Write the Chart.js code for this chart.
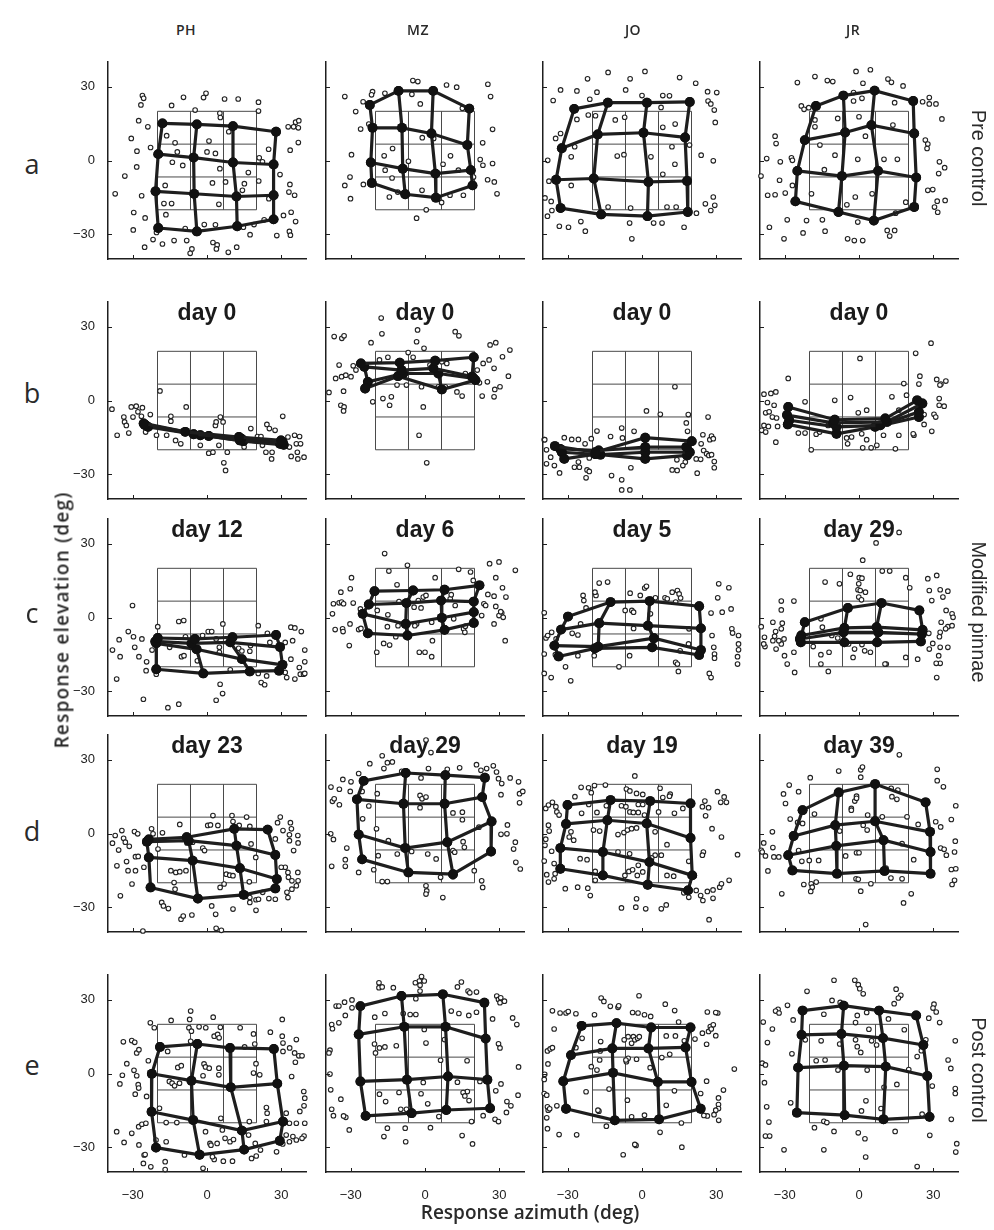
<!DOCTYPE html>
<html><head><meta charset="utf-8">
<script src="https://cdn.jsdelivr.net/npm/chart.js@4.4.0/dist/chart.umd.min.js"></script>
<style>
html,body{margin:0;padding:0;background:#fff}
body{width:994px;height:1230px;position:relative;overflow:hidden;font-family:'Liberation Sans',Arial,sans-serif;color:#222}
canvas.cv{position:absolute}
.lbl{position:absolute;white-space:nowrap;transform:translate(-50%,-50%);line-height:1}
.hdr{font-family:'Open Sans',sans-serif;font-weight:600;font-size:14px;color:#2a2a2a;letter-spacing:0.5px}
.row{font-family:'Open Sans',sans-serif;font-weight:400;font-size:27px;color:#2a2a2a}
.ttl{font-family:'Open Sans',sans-serif;font-weight:600;font-size:19px;color:#2a2a2a}
.ttly{letter-spacing:1.2px}
.side{font-family:'Liberation Sans',Arial,sans-serif;font-size:20px;color:#2a2a2a}
</style></head><body>
<script>
// ---------- categories / labels ----------
const subjects = ['PH','MZ','JO','JR'];
const rowLetters = ['a','b','c','d','e'];
const conditions = ['Pre control','Modified pinnae','Post control'];
const dayLabels = [
  [null,null,null,null],
  ['day 0','day 0','day 0','day 0'],
  ['day 12','day 6','day 5','day 29'],
  ['day 23','day 29','day 19','day 39'],
  [null,null,null,null]
];
const tickValues = [-30, 0, 30];
const targetAz = [-20, -6.67, 6.67, 20];
const targetEl = [-20, -6.67, 6.67, 20];

// ---------- row a : pre control ----------
const PH_a_mean = [[-18.0,15.1],[-4.1,14.7],[10.5,14.0],[27.9,11.7],[-19.7,2.6],[-5.4,1.2],[10.5,-0.8],[26.9,-1.6],[-20.8,-12.5],[-5.2,-13.5],[11.9,-14.6],[26.9,-14.1],[-19.7,-27.4],[-4.1,-28.8],[12.2,-26.7],[26.9,-23.9]];
const PH_a_resp = [[-26.1,26.4],[-25.6,25.3],[-26.7,22.6],[-27.6,16.2],[-23.9,13.7],[-30.6,9.0],[-28.3,3.8],[-22.8,5.3],[-33.2,-6.3],[-28.4,-2.6],[-37.1,-13.5],[-26.4,-14.3],[-29.6,-21.1],[-25.0,-23.3],[-29.8,-28.2],[-25.2,-35.2],[-21.8,-32.1],[-18.0,-33.9],[-20.4,-29.2],[-16.6,-22.0],[-14.3,-17.5],[-17.4,-17.5],[-16.9,-10.1],[-16.3,10.1],[-12.9,7.2],[-14.0,-0.7],[-9.8,-2.0],[-14.3,22.4],[-9.5,25.7],[-4.8,20.5],[-1.4,25.6],[-0.4,27.3],[5.2,19.2],[5.4,17.5],[7.1,25.0],[12.6,25.0],[20.8,23.7],[20.8,20.1],[8.8,11.7],[0.8,7.9],[0,3.5],[3.4,2.9],[5.2,-3.3],[2.2,-9.1],[7.5,-8.7],[4.8,-17.8],[15.1,-9.4],[14.3,-12.1],[16.7,-4.9],[20.9,-8.3],[21.1,1.1],[22.4,-0.5],[24.9,4.6],[25.0,-15.5],[29.5,-5.7],[33.6,4.2],[36.9,7.3],[32.8,13.7],[35.0,13.7],[35.8,15.6],[37.1,16.2],[36.9,13.3],[33.5,-9.7],[33.1,-12.8],[35.4,-14.1],[30.9,-22.3],[34.0,-21.0],[35.8,-24.8],[33.3,-28.8],[33.7,-30.3],[28.2,-30.5],[17.4,-30.1],[14.7,-27.1],[19.0,-26.0],[23.1,-24.1],[3.4,-26.1],[-1.1,-26.0],[-8.8,-27.6],[-6.1,-35.9],[-6.8,-37.7],[2.4,-33.3],[4.1,-34.3],[3.8,-35.9],[8.6,-37.3],[12.0,-35.2],[-8.2,-32.5],[-13.3,-32.5],[-12.0,3.5]];
const MZ_a_mean = [[-22.3,22.6],[-10.7,28.3],[3.3,28.3],[17.9,21.1],[-21.2,13.3],[-9.3,13.3],[2.6,11.0],[17.1,6.3],[-21.9,-0.8],[-9.0,-3.3],[4.2,-5.3],[18.5,-3.9],[-21.5,-9.1],[-8.0,-13.7],[4.4,-15.1],[19.2,-10.1]];
const MZ_a_resp = [[-32.4,26.0],[-28.0,19.9],[-25.0,23.9],[-21.2,28.0],[-21.6,26.7],[-16.2,27.3],[-4.9,32.5],[-2.9,32.1],[-5.3,26.9],[-1.9,23.0],[8.7,30.7],[12.8,29.8],[25.4,31.0],[26.5,26.0],[15.1,21.2],[27.3,12.7],[23.3,7.2],[-26.0,12.8],[-22.7,14.8],[-29.7,2.4],[-16.5,1.9],[-13.1,4.9],[-1.1,9.3],[3.5,9.0],[10.3,1.9],[7.3,-1.5],[-6.7,-0.3],[-16.1,-3.9],[-13.3,-7.1],[-30.3,-6.7],[-32.4,-10.1],[-30.1,-15.5],[-24.9,-9.7],[-14.4,-14.8],[-1.2,-12.1],[6.7,-17.0],[10.1,-14.1],[15.5,-14.1],[13.5,-3.9],[22.3,0.4],[23.4,-1.9],[27.3,-1.2],[25.3,-7.8],[28.0,-8.7],[29.1,-13.5],[0.5,-20.0],[-3.4,-23.4],[-11.0,-12.8],[19.6,-6.7]];
const JO_a_mean = [[-27.4,21.0],[-13.8,23.5],[2.0,23.5],[19.3,23.8],[-32.4,5.0],[-17.9,10.6],[0.6,11.3],[17.4,9.4],[-34.7,-7.8],[-19.5,-7.3],[2.6,-8.7],[18.2,-8.3],[-32.9,-19.3],[-16.5,-21.9],[2.2,-22.6],[18.5,-20.9]];
const JO_a_resp = [[-22.0,33.2],[-13.7,35.8],[-4.8,33.2],[1.2,36.2],[15.2,33.7],[21.7,31.4],[-32.9,28.7],[-26.3,28.3],[-18.2,27.8],[-6.6,28.7],[0,26.4],[8.4,26.4],[11.1,26.3],[26.5,28.0],[30.2,27.6],[-35.9,24.4],[-21.1,24.9],[26.7,24.2],[27.8,23.0],[29.2,20.5],[-21.7,18.5],[-18.8,18.2],[-26.3,16.7],[-10.8,16.5],[-7.0,17.6],[7.7,21.6],[8.4,13.5],[13.4,14.8],[29.6,15.5],[-32.9,11.0],[-34.9,9.0],[-27.2,5.6],[-28.6,1.5],[-38.1,0.1],[-10.0,1.8],[-7.3,2.4],[3.6,1.5],[13.3,-1.5],[12.1,5.6],[19.2,6.3],[23.9,2.2],[28.8,-0.1],[8.4,-5.6],[-37.6,-8.4],[-28.6,-10.1],[-39.2,-15.2],[-36.7,-16.6],[-36.4,-20.3],[-38.2,-22.6],[-29.7,-27.1],[-33.4,-26.7],[-24.7,-24.8],[-22.9,-28.7],[-13.7,-18.9],[-4.6,-19.3],[-5.0,-25.4],[4.7,-25.4],[8.1,-25.4],[10.1,-18.9],[13.8,-18.9],[17.0,-27.1],[22.0,-21.4],[28.8,-14.8],[25.6,-17.6],[29.4,-18.2],[27.8,-20.3],[-4.1,-31.8]];
const JR_a_mean = [[-17.4,22.2],[-6.3,26.4],[6.3,28.4],[21.9,24.2],[-21.9,8.3],[-5.6,11.4],[5.0,14.4],[22.3,11.0],[-24.9,-4.2],[-6.9,-6.3],[7.7,-4.2],[23.1,-6.9],[-25.7,-16.6],[-8.3,-20.9],[6.0,-24.4],[22.3,-18.9]];
const JR_a_resp = [[-24.9,31.7],[-17.8,34.1],[-12.8,32.5],[-10.6,32.1],[-1.2,36.2],[4.6,36.9],[1.6,31.4],[11.7,33.1],[13.1,31.8],[17.8,30.3],[-2.2,27.6],[1.2,25.3],[-2.2,24.2],[14.4,23.5],[25.7,23.9],[28.4,25.6],[28.4,23.0],[31.1,23.0],[33.5,16.9],[-23.3,22.2],[-22.2,20.8],[-20.3,21.5],[-17.8,13.7],[-17.8,16.5],[-8.6,17.1],[0,17.8],[13.7,14.4],[2.6,9.9],[-33.9,9.9],[-33.5,6.9],[-15.8,6.3],[-9.7,2.2],[-0.5,0.5],[10.1,0.5],[15.5,0.5],[26.8,8.3],[27.8,6.7],[27.5,4.9],[-37.3,0.8],[-31.8,-0.5],[-27.3,1.1],[-26.9,0.1],[-14.0,-3.7],[-39.6,-6.3],[-32.1,-8.0],[-26.9,-10.1],[-36.9,-14.1],[-33.9,-13.9],[-29.8,-13.2],[-19.2,-13.5],[-1.5,-14.8],[-4.9,-18.0],[5.3,-13.5],[18.9,-16.9],[27.8,-12.1],[29.8,-11.8],[32.5,-0.5],[34.6,-2.9],[32.2,-5.3],[31.6,-16.5],[30.5,-18.9],[31.8,-21.0],[34.8,-16.2],[-0.5,-25.0],[14.8,-21.4],[-29.0,-24.1],[-36.2,-27.1],[-30.3,-31.8],[-21.2,-24.4],[-22.6,-29.4],[-14.8,-24.1],[-13.7,-28.7],[-4.6,-31.8],[-1.9,-32.5],[1.5,-32.5],[11.4,-28.4],[14.4,-28.4],[12.4,-30.7]];

// ---------- row b : day 0 ----------
const PH_b_mean = [[-25.6,-9.3],[-8.8,-12.7],[12.9,-14.8],[29.9,-16.2],[-24.8,-10.0],[-5.4,-13.7],[13.9,-15.5],[30.6,-16.9],[-23.8,-10.7],[-2.7,-14.1],[13.3,-16.2],[29.5,-17.6],[-25.2,-9.8],[0.7,-14.4],[14.6,-16.5],[31.0,-18.0]];
const PH_b_resp = [[-38.4,-3.5],[-36.3,-14.1],[-33.6,-6.7],[-33.3,-8.7],[-32.6,-10.1],[-31.6,-13.2],[-30.6,-2.6],[-29.9,-6.7],[-28.6,-2.3],[-27.9,-4.6],[-26.1,-2.9],[-26.5,-6.4],[-24.8,-12.8],[-22.9,-5.7],[-20.4,-14.1],[-19.0,3.9],[-16.3,-14.1],[-14.6,-8.4],[-14.6,-6.4],[-12.7,-16.2],[-10.6,-17.6],[-8.4,-2.6],[-4.1,-13.5],[0.7,-21.4],[2.4,-21.0],[3.4,-10.1],[3.7,-8.7],[5.4,-6.7],[6.5,-8.7],[4.8,-18.2],[6.8,-25.3],[7.5,-28.4],[8.2,-21.0],[17.7,-11.4],[20.4,-14.6],[21.8,-14.6],[22.4,-18.2],[23.8,-21.0],[24.2,-9.7],[25.2,-11.4],[26.3,-21.0],[26.1,-23.7],[27.5,-12.1],[30.6,-6.4],[32.7,-14.8],[33.3,-18.9],[34.0,-22.7],[35.4,-14.1],[36.1,-17.6],[37.4,-14.6],[37.8,-17.6],[36.7,-23.7],[39.2,-23.0],[36.5,-21.0],[15.0,-18.9],[-2.7,-18.2]];
const MZ_b_mean = [[-25.9,15.1],[-10.2,15.4],[4.1,16.2],[19.7,17.6],[-24.5,13.7],[-9.5,12.4],[3.4,13.1],[19.0,9.7],[-23.1,7.6],[-8.8,11.0],[5.4,11.0],[19.7,9.0],[-24.2,4.9],[-10.9,9.9],[6.8,4.5],[20.4,8.3]];
const MZ_b_resp = [[-38.8,3.3],[-36.7,26.0],[-33.6,25.3],[-32.7,26.3],[-34.7,14.4],[-36.1,9.0],[-33.7,9.7],[-32.0,10.3],[-29.9,9.7],[-29.0,14.1],[-27.9,12.4],[-32.9,3.8],[-34.0,-1.9],[-32.7,-2.6],[-32.9,-4.2],[-21.8,23.5],[-21.1,-0.5],[-18.4,16.5],[-17.7,33.5],[-17.4,27.1],[-15.0,17.6],[-13.6,1.5],[-14.3,-1.9],[-11.3,6.3],[-7.5,6.3],[-6.8,19.5],[-4.8,17.6],[-3.4,23.9],[-3.0,28.7],[-1.4,5.6],[-0.7,-2.6],[-2.4,-14.1],[0.7,-25.3],[-0.4,21.2],[2.0,14.4],[8.2,5.6],[6.8,15.8],[8.8,15.1],[12.2,28.0],[13.7,26.3],[12.9,3.5],[15.0,1.8],[16.3,11.0],[22.0,7.2],[23.1,1.8],[23.5,15.1],[25.9,16.5],[26.3,22.6],[28.6,23.5],[27.9,13.1],[27.9,1.5],[28.2,4.5],[30.3,5.6],[31.3,17.8],[33.7,9.9],[34.3,20.5],[25.2,7.6],[21.1,12.4],[5.4,5.6],[-17.0,0.8]];
const JO_b_mean = [[-35.2,-18.5],[-18.8,-21.0],[1.3,-15.1],[20.1,-16.5],[-33.1,-19.6],[-17.5,-20.3],[1.3,-18.9],[17.9,-18.9],[-32.4,-21.0],[-16.8,-22.0],[1.3,-21.0],[19.3,-21.0],[-31.4,-23.7],[-18.8,-21.8],[1.3,-23.7],[18.2,-22.3]];
const JO_b_resp = [[-39.5,-15.9],[-39.3,-15.9],[-38.6,-20.0],[-36.9,-23.0],[-38.6,-25.7],[-35.4,-26.4],[-33.3,-29.4],[-31.4,-15.1],[-28.4,-15.8],[-25.7,-15.8],[-27.3,-27.1],[-25.7,-25.0],[-25.3,-27.1],[-23.0,-17.6],[-22.6,-31.4],[-22.2,-28.2],[-21.3,-28.8],[-21.3,-23.3],[-20.5,-15.5],[-18.2,-12.4],[-12.7,-14.6],[-12.3,-30.5],[-8.2,-11.2],[-7.9,-15.2],[-8.2,-32.2],[-8.2,-36.3],[-4.9,-36.3],[-4.5,-27.3],[-3.2,-12.5],[1.8,-4.2],[7.4,-5.6],[13.3,5.6],[18.7,-5.7],[17.9,-9.1],[18.4,-12.5],[12.2,-28.2],[14.2,-28.4],[14.1,-24.1],[17.5,-25.0],[16.5,-26.4],[22.3,-29.5],[23.9,-17.6],[24.6,-13.9],[24.9,-20.3],[26.7,-6.7],[27.4,-15.9],[28.1,-14.4],[28.8,-15.5],[26.1,-21.6],[27.0,-22.3],[28.1,-22.0],[29.2,-24.8],[29.2,-27.3],[23.7,-23.9],[21.9,-23.7]];
const JR_b_mean = [[-28.6,-2.6],[-9.8,-7.8],[10.6,-7.3],[23.5,0.1],[-29.1,-5.9],[-10.5,-9.1],[11.3,-8.7],[25.6,-1.2],[-28.2,-8.0],[-9.1,-10.7],[8.6,-10.1],[24.2,-4.6],[-28.8,-9.7],[-9.1,-13.5],[6.5,-10.7],[24.2,-6.7]];
const JR_b_resp = [[-38.4,2.6],[-35.6,2.9],[-33.6,3.5],[-37.0,-0.8],[-34.3,-1.9],[-37.7,-5.0],[-36.3,-4.6],[-35.0,-6.7],[-33.3,-7.1],[-38.4,-10.1],[-36.6,-10.5],[-39.3,-12.1],[-37.7,-12.8],[-33.6,-16.9],[-32.9,-10.5],[-28.6,9.0],[-24.5,-13.2],[-21.8,-13.2],[-21.8,-0.5],[-19.3,-20.0],[-17.3,-13.7],[-15.9,-12.8],[-9.8,0.1],[-12.5,-10.1],[-5.0,-15.2],[-4.6,-17.6],[-3.0,-14.8],[-3.4,1.2],[0.4,17.1],[-0.3,-5.0],[1.1,-13.5],[3.1,-3.9],[3.1,-15.9],[4.9,-19.2],[1.5,-19.2],[7.2,-18.2],[9.9,-14.1],[13.3,1.5],[14.7,-19.6],[16.1,-14.1],[16.1,-3.9],[18.1,6.9],[19.2,2.2],[22.2,-14.1],[21.9,-13.5],[22.9,19.2],[24.6,9.9],[24.2,6.7],[26.3,-5.7],[26.3,-9.7],[29.1,23.3],[29.4,-12.5],[30.3,-5.6],[31.4,8.6],[33.1,6.7],[35.1,7.9],[32.4,0.8],[32.4,-1.9],[34.4,-2.3],[31.0,-6.7],[32.7,6.3]];

// ---------- row c : modified pinnae ----------
const PH_c_mean = [[-19.9,-8.3],[-4.9,-8.7],[10.3,-8.0],[27.9,-7.1],[-20.9,-9.7],[-6.3,-10.5],[9.4,-10.1],[29.5,-12.0],[-20.5,-10.5],[-4.2,-12.9],[14.1,-16.9],[30.5,-19.2],[-20.5,-21.0],[-1.5,-22.7],[17.3,-21.9],[29.1,-21.6]];
const PH_c_resp = [[-38.2,-13.2],[-36.5,-25.0],[-35.1,-15.9],[-35.5,-9.0],[-31.8,-5.7],[-30.1,4.9],[-29.7,-7.8],[-29.2,-12.1],[-27.5,-15.9],[-26.3,-8.7],[-25.7,-33.2],[-24.6,-21.6],[-24.4,-18.0],[-22.2,-13.2],[-20.5,-23.0],[-19.9,-3.7],[-15.8,-36.6],[-15.1,-12.1],[-11.4,-35.2],[-11.4,-1.6],[-9.4,-1.2],[-10.3,-15.9],[-9.3,-15.5],[-8.7,-7.8],[-3.9,-17.6],[-1.8,-7.3],[0.5,-5.7],[1.9,-5.7],[6.4,-2.6],[3.7,-8.7],[5.0,-12.1],[5.0,-14.1],[5.3,-27.1],[6.3,-30.9],[3.7,-33.6],[9.4,-21.2],[12.8,-12.5],[14.1,-13.6],[17.3,-13.7],[17.6,-11.4],[20.7,-3.3],[20.7,-22.7],[21.9,-26.4],[23.3,-27.3],[24.1,-23.7],[24.4,-6.4],[25.4,-10.1],[31.6,-10.1],[31.2,-19.3],[31.6,-22.3],[32.2,-24.4],[33.9,-16.9],[33.9,-3.9],[35.5,-4.2],[34.6,-9.4],[35.5,-25.0],[37.3,-20.3],[37.7,-23.0],[39.0,-23.0],[38.1,-5.7],[39.5,-13.2],[39.5,-18.0],[39.5,-22.7]];
const MZ_c_mean = [[-20.4,10.7],[-4.8,11.0],[7.9,11.3],[22.0,13.1],[-22.7,5.3],[-7.5,5.9],[6.5,6.9],[19.7,6.5],[-25.2,1.5],[-7.8,-2.6],[6.8,-0.1],[19.7,2.2],[-23.1,-6.4],[-7.1,-7.3],[7.9,-5.0],[19.7,-2.2]];
const MZ_c_resp = [[-37.4,1.5],[-37.0,5.6],[-34.7,6.0],[-33.7,6.3],[-32.9,5.6],[-29.0,5.9],[-34.0,10.3],[-30.2,11.7],[-29.7,16.2],[-36.3,-4.9],[-33.3,-4.6],[-33.1,-5.7],[-30.3,-2.6],[-30.6,-11.4],[-26.8,-4.9],[-25.9,-4.4],[-26.1,3.5],[-19.3,2.9],[-16.3,26.0],[-14.6,18.9],[-15.0,1.1],[-15.2,-3.7],[-16.7,-10.5],[-14.3,-11.2],[-19.5,-14.1],[-11.3,13.3],[-10.5,6.5],[-10.9,-3.3],[-11.8,-7.8],[-7.1,21.2],[-4.4,4.2],[-2.7,6.9],[-1.6,3.9],[-3.4,-2.6],[-4.1,-3.3],[-2.3,-14.1],[0,-14.1],[2.7,-15.9],[-0.7,8.3],[0.4,9.0],[4.1,16.2],[2.7,-1.9],[3.0,-9.4],[6.8,7.6],[10.2,7.6],[10.6,9.3],[11.6,-0.5],[12.2,4.9],[13.6,19.6],[15.6,-4.6],[16.3,-3.5],[16.1,-6.0],[18.4,18.5],[19.5,15.1],[22.9,0.8],[25.4,9.4],[26.1,21.9],[27.9,8.7],[28.6,16.2],[29.9,22.6],[31.3,12.1],[32.7,8.3],[31.0,1.8],[27.9,-2.6],[29.9,0.8],[31.6,0.1],[32.4,-9.4],[36.5,19.2],[28.6,4.5],[30.6,2.4],[23.8,5.6],[24.5,4.9]];
const JO_c_mean = [[-29.9,0.4],[-12.7,6.3],[3.1,6.7],[23.1,4.6],[-32.7,-4.9],[-17.3,-2.3],[2.4,-3.3],[23.8,-4.4],[-35.4,-11.4],[-17.7,-11.8],[4.8,-8.4],[23.8,-13.2],[-33.7,-15.8],[-19.0,-12.5],[4.1,-12.1],[23.1,-15.2]];
const JO_c_resp = [[-39.5,1.9],[-39.5,-14.8],[-39.5,-22.7],[-38.8,-8.3],[-38.1,-7.3],[-36.7,-24.4],[-36.5,-6.0],[-34.7,-8.7],[-35.0,-15.1],[-34.0,-16.2],[-30.9,-20.0],[-28.8,-25.7],[-28.2,-6.4],[-25.9,-7.1],[-25.9,-15.5],[-24.8,-2.6],[-23.8,9.0],[-23.5,6.9],[-22.6,3.9],[-19.3,-15.5],[-18.6,9.0],[-17.3,14.0],[-13.9,14.4],[-9.3,-20.0],[-6.8,2.9],[-5.0,-15.5],[-4.1,2.9],[-3.4,2.2],[-4.8,9.9],[-3.4,-4.4],[-0.7,9.0],[1.1,12.0],[1.8,12.7],[3.4,1.5],[5.4,8.0],[9.3,8.0],[10.2,7.6],[12.2,10.3],[14.3,11.0],[15.0,9.6],[15.6,7.9],[13.6,6.3],[15.4,-13.5],[13.6,-18.2],[14.3,-18.9],[14.7,-21.9],[18.8,-10.7],[19.0,-4.6],[27.9,1.8],[28.3,-7.3],[29.0,-12.1],[29.3,-14.8],[29.3,-16.5],[27.2,-22.7],[27.9,-24.4],[30.6,8.0],[31.0,13.7],[32.4,2.2],[35.1,12.1],[36.0,3.5],[36.3,-4.6],[36.6,-6.3],[39.0,-7.3],[39.0,-10.7],[39.0,-13.1],[38.6,-15.9],[38.6,-18.9],[-19.0,10.3]];
const JR_c_mean = [[-21.9,-1.9],[-4.5,3.9],[9.1,5.9],[24.4,2.9],[-23.3,-7.3],[-5.9,-4.2],[7.1,-3.9],[25.7,-5.0],[-23.9,-8.7],[-6.3,-6.0],[7.8,-6.0],[25.4,-6.7],[-23.5,-10.1],[-5.9,-10.1],[7.3,-10.1],[25.0,-9.7]];
const JR_c_resp = [[16.2,34.6],[6.9,30.3],[1.5,23.3],[-13.7,14.4],[-7.9,13.7],[-3.5,17.6],[0.1,16.2],[1.2,16.0],[-0.1,13.7],[-0.4,11.3],[0.5,11.0],[-0.1,8.3],[1.0,7.2],[2.6,10.3],[9.4,18.9],[12.4,18.9],[18.9,16.2],[20.5,12.1],[27.8,15.8],[31.4,17.1],[28.4,11.0],[29.4,6.9],[33.9,8.3],[32.8,11.3],[35.9,10.7],[37.6,1.5],[38.0,0.1],[35.2,2.9],[33.2,-1.9],[35.9,-3.7],[37.6,-3.3],[35.0,-4.6],[32.8,-6.0],[32.5,-7.8],[28.2,-6.4],[29.8,-10.5],[32.8,-12.1],[35.9,-12.1],[32.2,-15.5],[32.8,-18.6],[31.2,-18.6],[31.4,-24.4],[28.4,-12.8],[23.7,-16.9],[18.9,-16.2],[11.0,-18.9],[10.5,-18.9],[4.6,-14.1],[2.3,-13.5],[1.2,-11.0],[-1.8,-12.8],[-2.4,-16.2],[-4.2,-10.7],[-8.6,-8.3],[-11.0,-7.3],[-12.1,-14.1],[-15.4,-18.9],[-12.4,-21.9],[-15.4,-15.1],[-14.8,-3.9],[-15.4,-0.5],[-18.5,-11.8],[-26.3,-14.1],[-26.0,-22.3],[-29.0,-18.9],[-30.1,-15.5],[-33.5,-12.8],[-31.4,-10.7],[-30.3,-8.7],[-32.4,-9.4],[-34.1,-7.6],[-33.7,-5.7],[-31.4,-4.6],[-31.0,-2.3],[-34.8,-1.9],[-31.4,3.1],[-31.4,6.7],[-26.3,6.7],[-34.8,-9.4],[-38.0,-11.8],[-39.5,-3.7],[-38.2,-8.0],[-38.5,-10.7]];

// ---------- row d : modified pinnae (later) ----------
const PH_d_mean = [[-23.5,-2.4],[-8.2,-1.5],[11.0,1.9],[24.5,1.6],[-24.3,-3.3],[-7.4,-2.9],[11.9,-4.9],[27.6,-8.7],[-23.5,-9.7],[-5.8,-11.0],[13.3,-14.1],[28.2,-18.5],[-22.8,-21.9],[-3.7,-26.4],[14.8,-24.9],[27.6,-22.3]];
const PH_d_resp = [[-38.2,-3.9],[-37.1,-0.8],[-35.7,-6.7],[-36.4,-13.1],[-35.0,-25.3],[-34.4,1.2],[-33.7,-1.9],[-33.0,-3.5],[-32.5,-11.4],[-31.9,-15.1],[-31.4,-5.2],[-30.3,-20.5],[-29.3,0.8],[-28.9,-9.4],[-28.0,-0.1],[-28.9,-15.1],[-27.8,-9.3],[-25.5,-13.7],[-25.9,-39.6],[-22.4,1.9],[-21.8,-0.1],[-19.8,-6.3],[-18.0,0.3],[-18.3,-28.0],[-17.6,-29.4],[-15.6,-30.5],[-14.6,-15.1],[-12.9,-22.6],[-13.3,-19.9],[-12.6,-15.8],[-11.0,-15.5],[-10.5,-34.8],[-9.6,-33.5],[-8.5,-15.1],[-8.1,-3.8],[-6.1,-33.1],[-11.0,3.7],[-5.8,-3.5],[-1.7,-5.9],[-1.0,-6.9],[0.3,3.3],[1.4,3.5],[1.9,-29.4],[3.5,-32.8],[3.7,-38.5],[5.8,-39.3],[4.4,3.3],[2.4,7.3],[6.9,-20.5],[5.3,-21.9],[7.8,-16.5],[9.2,-16.9],[10.5,-17.1],[10.5,-30.7],[10.1,7.3],[10.5,4.9],[13.0,3.3],[16.0,6.7],[17.3,2.9],[17.8,-4.2],[19.7,-9.7],[17.1,-19.6],[17.3,-26.0],[17.3,-28.0],[19.8,-26.9],[19.8,-31.2],[20.8,-26.7],[22.5,-23.9],[25.0,-26.4],[27.6,-26.7],[27.6,-2.2],[28.5,4.4],[29.6,6.7],[30.7,1.2],[33.3,-0.5],[33.3,-2.9],[34.1,1.9],[36.7,-0.8],[36.8,-3.8],[35.0,-6.9],[33.7,4.4],[31.6,-13.7],[32.7,-15.8],[32.9,-17.8],[34.3,-19.2],[36.7,-15.8],[36.8,-19.2],[36.1,-21.2],[34.3,-22.6],[32.7,-26.0],[32.3,-23.9],[30.0,-13.7]];
const MZ_d_mean = [[-24.8,21.4],[-7.8,24.6],[8.2,23.7],[24.2,22.7],[-27.5,13.9],[-8.7,12.1],[7.9,12.1],[23.1,14.8],[-26.8,-0.4],[-8.0,-5.9],[9.0,-3.5],[26.9,4.9],[-25.4,-10.5],[-6.7,-15.8],[11.3,-16.5],[26.7,-7.3]];
const MZ_d_resp = [[-38.0,18.9],[-37.4,13.1],[-36.7,14.1],[-34.6,11.7],[-34.6,18.0],[-33.2,22.0],[-29.9,21.0],[-30.2,17.1],[-26.8,24.4],[-22.3,28.4],[-17.3,31.6],[-15.2,28.8],[-13.2,29.1],[-16.6,26.4],[-25.4,17.1],[-25.2,6.0],[-22.7,11.2],[-19.3,16.2],[-19.6,1.9],[-38.1,-0.1],[-37.0,-2.4],[-31.6,-5.9],[-32.2,-10.6],[-32.2,-13.3],[-37.7,-13.3],[-26.8,-15.8],[-20.7,-14.7],[-17.3,-19.5],[-15.2,-19.5],[-18.9,-9.0],[-14.8,-2.9],[-11.2,-8.3],[-5.4,-7.3],[1.1,-8.3],[4.5,-10.3],[0.4,-21.2],[0.7,-23.3],[0.4,-24.6],[7.2,-26.0],[6.3,-17.8],[11.3,-6.9],[15.4,-3.3],[15.9,-5.6],[19.9,-15.1],[22.9,-19.2],[23.3,-21.9],[21.8,2.6],[26.9,4.4],[30.7,-0.3],[33.1,-0.1],[33.3,3.5],[35.8,-6.3],[36.5,-3.5],[36.7,-11.7],[38.5,-14.4],[38.2,16.2],[37.8,21.0],[38.2,12.5],[39.5,17.1],[34.4,22.6],[31.0,20.3],[30.7,15.8],[29.7,22.3],[27.6,27.5],[28.9,25.0],[24.9,26.4],[20.8,28.0],[22.6,25.7],[14.0,26.7],[9.0,26.1],[1.4,26.4],[-1.6,22.6],[-2.0,15.5],[-1.2,14.1],[0.4,14.8],[-2.0,10.5],[-9.4,25.3],[0.4,38.0],[2.4,32.9],[11.3,8.4],[15.1,8.7],[15.1,5.6],[12.0,-7.6],[11.3,-17.6]];
const JO_d_mean = [[-30.1,11.6],[-12.7,13.6],[3.3,13.2],[19.6,12.2],[-30.7,3.9],[-14.0,5.4],[1.9,4.1],[19.6,-1.8],[-33.0,-5.9],[-15.8,-7.5],[3.0,-11.6],[20.3,-17.0],[-33.0,-14.3],[-15.8,-17.0],[2.3,-20.8],[18.6,-23.1]];
const JO_d_resp = [[-2.9,23.4],[-24.6,18.8],[-21.6,18.6],[-19.2,19.5],[-14.8,19.7],[-27.1,15.0],[-20.5,16.6],[-6.3,18.1],[-4.9,17.3],[-2.2,16.3],[0.3,15.9],[7.3,18.4],[8.4,14.6],[11.4,16.0],[11.1,15.2],[-38.9,10.2],[-37.8,11.6],[-36.2,12.7],[-34.8,10.9],[-34.4,8.8],[-33.5,7.5],[-24.4,8.2],[-21.5,11.8],[-18.2,8.6],[-14.4,11.3],[-8.3,11.3],[-6.5,10.9],[-4.9,8.8],[-3.5,8.6],[-1.5,8.6],[-1.5,11.8],[0.3,11.8],[1.0,7.5],[6.7,8.8],[13.1,8.2],[16.5,10.2],[-37.8,3.4],[-37.5,1.0],[-28.7,0.7],[-29.4,-1.4],[-27.6,-2.7],[-38.9,-2.3],[-39.2,-4.8],[-36.5,-7.2],[-39.5,-11.2],[-35.5,-12.2],[-25.0,-10.2],[-22.2,-10.6],[-19.6,1.4],[-17.1,1.0],[-9.7,-0.4],[-7.3,0.4],[-5.9,1.4],[-4.2,2.0],[-2.2,2.3],[5.3,0.7],[10.1,-4.5],[-9.7,-7.5],[-5.0,-8.2],[5.3,-8.8],[7.8,-8.8],[3.9,-9.9],[18.9,-11.3],[-1.5,-12.9],[-5.3,-15.4],[-3.8,-14.7],[-6.9,-17.0],[-1.9,-17.0],[0.3,-15.6],[10.1,-17.0],[12.8,-17.3],[-18.9,-19.0],[-18.9,-15.4],[-38.5,-16.7],[-35.1,-16.3],[-37.8,-19.7],[-35.5,-18.4],[-31.0,-22.4],[-26.0,-21.8],[-21.9,-22.2],[-20.9,-25.2],[-8.3,-30.2],[-2.2,-26.5],[-2.5,-29.9],[1.5,-30.6],[7.8,-30.6],[9.8,-29.0],[16.9,-24.1],[18.9,-25.9],[21.9,-23.1],[23.7,-25.2],[24.6,-27.2],[28.7,-26.3],[26.4,-23.5],[28.7,-22.9],[31.4,-21.8],[32.1,-20.4],[35.2,-19.0],[27.1,-35.0],[24.8,-7.5],[24.4,-8.8],[25.7,7.2],[25.4,13.2],[24.4,10.9],[26.9,10.5],[28.3,2.0],[30.5,17.0],[33.2,14.9],[31.8,12.7],[34.1,12.7],[32.1,-1.4],[38.6,-8.6]];
const JR_d_mean = [[-22.8,9.5],[-8.2,16.7],[6.5,20.1],[26.9,12.7],[-26.4,-1.0],[-9.6,3.4],[6.5,5.0],[28.7,0.7],[-28.6,-8.8],[-9.2,-5.0],[9.9,-2.7],[28.9,-7.5],[-26.9,-15.0],[-8.9,-16.3],[10.3,-15.2],[28.9,-16.3]];
const JR_d_resp = [[16.3,32.0],[-8.2,25.4],[0.7,25.9],[1.4,27.0],[0.7,22.9],[-19.7,22.7],[-28.2,19.7],[-30.5,16.1],[-24.4,17.0],[-29.7,12.2],[-18.0,7.9],[-27.8,5.9],[-24.8,4.5],[-22.8,4.1],[-35.0,0.7],[-38.5,-3.8],[-34.8,-5.7],[-39.5,-6.8],[-39.1,-7.5],[-37.8,-9.1],[-34.4,-9.5],[-32.4,-9.5],[-36.8,-15.2],[-31.2,-24.5],[-24.4,-6.9],[-23.1,-11.3],[-20.1,-10.9],[-16.3,-10.9],[-22.3,-20.7],[-19.3,-20.4],[-18.9,-21.8],[-19.5,-23.5],[-17.3,-19.7],[-7.8,1.0],[-5.4,-9.1],[-1.0,-7.8],[0,-7.8],[-1.2,-18.4],[-0.3,-18.6],[0.7,-23.4],[2.7,-37.0],[-3.1,10.2],[-1.7,13.2],[-1.0,15.2],[-1.0,14.3],[-3.1,9.5],[3.5,7.5],[3.3,1.4],[9.4,6.8],[13.3,15.0],[15.3,13.9],[13.0,18.4],[15.7,17.7],[19.4,6.8],[23.9,3.7],[17.4,-4.1],[22.1,-10.6],[10.9,-14.0],[12.9,-18.1],[17.4,-18.4],[18.0,-28.2],[21.1,-24.5],[4.8,-20.4],[31.6,26.1],[31.6,21.5],[34.1,19.0],[39.1,11.3],[37.3,5.7],[33.0,-5.9],[34.4,-6.4],[35.3,-8.8],[38.9,-3.1],[38.6,-7.5],[37.3,-14.6],[39.1,-14.3],[38.6,-19.0],[37.6,-20.7],[33.0,2.7],[31.0,4.8],[1.7,3.4]];

// ---------- row e : post control ----------
const PH_e_mean = [[-19.0,10.8],[-3.9,12.0],[9.3,10.4],[27.0,10.0],[-22.3,-0.1],[-6.3,-2.9],[9.6,-5.6],[28.4,-4.1],[-22.4,-15.5],[-5.6,-18.9],[14.1,-23.2],[30.7,-19.5],[-20.6,-30.1],[-3.0,-33.0],[15.0,-30.9],[29.4,-27.3]];
const PH_e_resp = [[-36.5,-23.6],[-35.2,-4.2],[-34.2,-0.7],[-33.5,-28.0],[-33.8,12.9],[-32.4,4.0],[-30.4,13.4],[-29.2,12.7],[-30.4,-24.3],[-29.0,-8.4],[-29.5,1.3],[-28.4,-0.9],[-28.4,8.4],[-27.5,9.7],[-27.8,-4.5],[-27.6,-5.9],[-27.5,-29.0],[-25.4,-33.1],[-25.0,-32.9],[-25.7,-36.5],[-22.7,-37.9],[-24.4,-9.3],[-23.7,5.2],[-22.9,20.6],[-21.3,18.6],[-27.6,-21.6],[-26.3,-20.6],[-24.7,-20.2],[-20.6,-27.0],[-19.2,-14.1],[-16.9,-39.0],[-16.9,-35.8],[-16.5,-19.9],[-16.5,-27.7],[-15.9,9.0],[-15.2,-3.2],[-14.1,-3.9],[-13.1,-5.0],[-11.1,-3.9],[-12.2,-19.9],[-11.8,2.5],[-10.4,3.2],[-14.5,21.6],[-9.1,-33.1],[-7.0,22.0],[-6.6,25.4],[-7.3,18.6],[-6.3,17.2],[-6.6,13.1],[-3.2,19.0],[-0.5,18.6],[2.5,22.9],[2.9,15.2],[4.3,15.9],[4.9,14.5],[5.4,18.8],[-1.2,3.9],[-0.6,2.7],[0.9,2.2],[-1.6,-0.9],[4.8,2.2],[4.8,-0.5],[5.6,-18.2],[6.2,-22.9],[-0.6,-23.6],[1.2,-28.4],[1.6,-29.1],[2.9,-34.9],[6.6,-35.6],[10.3,-35.6],[2.2,-33.8],[-1.6,-38.5],[4.1,-28.4],[7.3,-26.3],[9.3,-27.7],[10.7,-26.8],[13.4,18.6],[15.2,10.8],[18.8,16.1],[19.3,12.0],[18.8,0.2],[21.3,-0.5],[19.8,4.0],[17.1,-19.5],[16.8,-25.0],[19.5,-28.4],[21.6,-31.1],[19.9,-33.5],[18.0,-34.5],[24.0,-13.8],[24.3,-16.1],[24.0,-19.5],[25.6,16.8],[28.1,-31.8],[30.4,22.0],[30.4,15.2],[30.7,12.4],[30.7,9.0],[33.4,10.4],[34.2,-1.2],[35.4,8.4],[35.7,4.6],[36.1,13.8],[37.1,7.2],[38.4,7.2],[39.1,-7.3],[39.5,-10.0],[39.2,-13.1],[37.5,-15.4],[36.1,-20.2],[39.5,-20.2],[34.7,-25.6],[32.0,-25.0],[30.6,-28.6],[33.3,-27.7],[36.1,-27.0],[39.2,-25.4],[38.4,-26.3],[32.0,-16.1],[33.3,-20.2]];
const MZ_e_mean = [[-26.1,27.4],[-9.5,31.5],[7.2,32.2],[24.0,28.8],[-26.8,15.9],[-8.4,19.0],[8.3,19.0],[24.5,14.2],[-26.1,-3.2],[-7.3,-2.5],[9.3,-1.2],[25.2,-2.5],[-24.0,-17.2],[-5.4,-16.1],[8.6,-14.8],[26.3,-14.1]];
const MZ_e_resp = [[-1.4,39.4],[-2.3,37.6],[-0.3,37.6],[-3.9,36.9],[-2.0,35.9],[-3.7,30.4],[-2.0,33.5],[-18.6,36.9],[-18.6,34.9],[-17.3,35.2],[-12.8,34.9],[13.1,35.2],[14.7,37.2],[17.4,33.5],[18.1,32.8],[20.8,33.1],[29.0,31.5],[29.7,30.1],[30.6,30.8],[30.3,28.8],[32.1,29.4],[27.3,22.2],[35.4,22.6],[37.1,19.9],[29.7,12.1],[30.3,10.4],[37.8,2.7],[30.7,-4.2],[28.6,-7.0],[37.6,-8.8],[33.1,-11.4],[34.7,-13.1],[32.9,-15.8],[28.3,-18.6],[29.7,-19.5],[23.5,-17.1],[22.2,-3.2],[17.1,-7.3],[15.4,-7.7],[16.1,-9.1],[17.8,-11.0],[18.8,-19.5],[19.2,-28.6],[15.0,-25.2],[13.1,-3.5],[17.0,5.2],[17.7,23.6],[20.8,24.9],[10.6,25.4],[7.9,13.8],[6.3,5.4],[0.4,12.4],[-0.3,17.9],[-0.7,-3.6],[-1.6,-8.2],[1.1,-12.3],[2.2,-22.0],[5.6,-17.5],[-3.7,24.0],[-6.0,24.0],[-8.8,24.4],[-16.2,24.4],[-20.3,22.9],[-20.0,8.4],[-18.4,10.4],[-16.2,10.8],[-11.6,11.3],[-18.4,-8.4],[-15.9,-11.4],[-10.5,-7.7],[-9.8,-14.5],[-7.5,-14.5],[-8.0,-22.2],[-7.8,-27.7],[-15.2,-22.2],[-16.6,-25.6],[-30.6,-22.9],[-32.0,-17.8],[-32.9,-17.2],[-34.0,-10.4],[-37.7,-14.5],[-37.0,-17.1],[-38.1,-6.6],[-38.4,-0.2],[-38.4,9.5],[-38.8,8.4],[-37.7,19.9],[-37.4,18.2],[-34.8,20.6],[-32.2,23.6],[-35.9,27.4],[-34.8,27.4],[-32.5,29.0],[-29.5,29.9],[-29.5,26.7],[-20.4,12.0],[13.7,24.4]];
const JO_e_mean = [[-24.4,19.4],[-10.3,20.5],[3.7,18.7],[19.6,18.7],[-28.7,7.5],[-12.0,10.2],[2.6,10.2],[17.6,10.6],[-31.8,-3.1],[-11.7,0.3],[6.4,-3.4],[20.0,-3.4],[-30.7,-14.3],[-11.0,-19.0],[6.9,-18.6],[23.7,-14.3]];
const JO_e_resp = [[-16.5,30.7],[-15.4,29.3],[-12.8,27.3],[-9.7,26.9],[-9.4,27.5],[-36.2,25.5],[-33.1,24.6],[-30.7,24.6],[-29.8,25.2],[-26.7,24.3],[-19.2,23.9],[-35.5,18.1],[-24.2,14.3],[-26.7,10.5],[-38.2,9.2],[-37.1,10.0],[-36.2,10.5],[-3.8,24.8],[-1.6,24.6],[-1.2,31.6],[1.0,23.9],[3.5,23.2],[9.4,28.2],[13.2,25.6],[14.8,20.9],[-16.7,13.0],[-16.9,9.2],[-17.1,5.5],[-20.5,2.8],[-18.2,1.4],[-13.3,-6.3],[-17.4,-15.3],[-14.4,-21.4],[-17.8,-14.9],[-22.6,-7.4],[-26.4,-24.9],[-33.5,-24.8],[-38.2,-22.4],[-37.9,-14.9],[-38.2,-13.5],[-37.3,-14.3],[-34.4,-13.1],[-39.5,-8.1],[-38.5,-8.8],[-39.5,-2.4],[-39.3,-0.3],[-38.0,3.9],[-38.5,-18.0],[-3.5,15.0],[-2.9,13.7],[-1.8,14.3],[-1.1,15.0],[-4.2,12.3],[-5.6,15.0],[-7.2,13.7],[-5.6,6.2],[-6.3,4.8],[-2.2,5.8],[-6.5,5.5],[3.3,2.4],[8.0,6.5],[11.2,7.8],[9.8,15.3],[13.5,15.3],[17.1,13.3],[24.4,16.4],[26.9,17.1],[27.6,19.1],[28.0,18.1],[29.8,15.4],[30.6,24.6],[29.8,24.8],[26.4,25.0],[28.8,19.8],[21.4,14.0],[26.1,11.9],[37.3,1.8],[26.1,-3.1],[23.7,-8.1],[32.9,-6.7],[30.9,-9.9],[30.9,-12.6],[30.9,-14.2],[29.8,-14.9],[31.0,-19.0],[29.1,-16.7],[26.4,-17.2],[25.0,-17.0],[15.9,-20.1],[16.1,-29.9],[7.3,-23.9],[9.8,-12.9],[13.1,-7.0],[1.0,-16.9],[-4.2,-17.6],[-2.4,-29.2],[-2.9,-28.8],[-7.6,-33.0],[-5.9,-10.8]];
const JR_e_mean = [[-22.8,25.6],[-6.2,27.6],[8.1,25.6],[23.1,23.6],[-23.2,15.7],[-7.1,16.1],[9.7,14.4],[26.0,11.6],[-24.6,2.4],[-6.1,3.2],[10.8,2.8],[27.6,-1.0],[-25.1,-15.9],[-5.8,-16.9],[9.9,-18.6],[28.5,-17.6]];
const JR_e_resp = [[-10.1,37.9],[-1.7,37.9],[-0.3,36.1],[0.3,34.5],[1.7,32.4],[-21.0,33.4],[-10.9,29.7],[-7.6,28.9],[15.0,34.3],[16.9,31.8],[15.9,30.7],[14.2,28.4],[-28.9,27.7],[-32.7,26.1],[-33.7,25.4],[-32.3,24.6],[-26.6,21.8],[-38.7,20.9],[-35.0,18.1],[-14.2,24.1],[-0.7,23.6],[3.1,24.8],[11.9,22.2],[30.3,28.2],[29.9,26.6],[31.2,25.0],[28.2,22.5],[32.6,20.7],[18.3,17.8],[4.0,18.0],[-1.4,20.7],[-1.4,13.7],[-0.7,10.9],[0.7,8.6],[5.1,13.3],[7.1,11.6],[-7.8,12.0],[-15.3,13.3],[-21.7,13.7],[-27.1,8.0],[-37.0,12.6],[-17.3,5.2],[-13.7,5.5],[-8.5,1.4],[3.3,1.4],[20.1,1.6],[25.2,9.3],[27.0,13.7],[23.5,6.9],[38.9,13.3],[36.0,5.5],[37.1,2.1],[38.9,-6.1],[38.9,-8.1],[29.6,-5.1],[15.3,-4.4],[10.1,-5.6],[2.8,-11.1],[1.0,-15.2],[8.9,-14.2],[14.6,-23.5],[25.5,-16.5],[28.6,-25.1],[37.3,-18.6],[39.5,-28.5],[39.1,-31.9],[23.5,-37.8],[2.7,-33.9],[2.4,-26.5],[-0.3,-24.1],[-10.1,-23.5],[-14.2,-19.4],[-13.0,-19.9],[-18.0,-22.0],[-14.2,-31.0],[-30.3,-31.0],[-37.8,-25.4],[-36.1,-25.4],[-36.4,-19.7],[-37.3,-13.5],[-38.2,-3.7],[-39.1,4.2],[-37.8,3.5],[-27.6,-11.9]];

const MEANS = [
  [PH_a_mean, MZ_a_mean, JO_a_mean, JR_a_mean],
  [PH_b_mean, MZ_b_mean, JO_b_mean, JR_b_mean],
  [PH_c_mean, MZ_c_mean, JO_c_mean, JR_c_mean],
  [PH_d_mean, MZ_d_mean, JO_d_mean, JR_d_mean],
  [PH_e_mean, MZ_e_mean, JO_e_mean, JR_e_mean]
];
const RESPS = [
  [PH_a_resp, MZ_a_resp, JO_a_resp, JR_a_resp],
  [PH_b_resp, MZ_b_resp, JO_b_resp, JR_b_resp],
  [PH_c_resp, MZ_c_resp, JO_c_resp, JR_c_resp],
  [PH_d_resp, MZ_d_resp, JO_d_resp, JR_d_resp],
  [PH_e_resp, MZ_e_resp, JO_e_resp, JR_e_resp]
];

// ---------- layout (pixels) ----------
const PLOT_LEFT = [108, 326, 543, 760];
const PLOT_TOP = [61, 301, 518, 734, 974];
const PLOT_SIZE = 198;
const PADL = 40, PADR = 6, PADT = 4, PADB = 30;
const INK = '#1e1e1e';

const panelTitlePlugin = {
  id: 'panelTitle',
  beforeDatasetsDraw(chart, args, opts) {
    if (!opts || !opts.text) return;
    const {ctx, chartArea} = chart;
    ctx.save();
    ctx.font = 'bold 23px "Liberation Sans", Arial, sans-serif';
    ctx.fillStyle = '#1a1a1a';
    ctx.textAlign = 'center';
    ctx.textBaseline = 'middle';
    ctx.fillText(opts.text, (chartArea.left + chartArea.right) / 2, chartArea.top + 12);
    ctx.restore();
  }
};
const innerTicksPlugin = {
  id: 'innerTicks',
  afterDraw(chart) {
    const {ctx, chartArea, scales} = chart;
    ctx.save();
    ctx.strokeStyle = INK;
    ctx.lineWidth = 1;
    ctx.beginPath();
    tickValues.forEach(v => {
      const px = Math.round(scales.x.getPixelForValue(v)) + 0.5;
      ctx.moveTo(px, chartArea.bottom); ctx.lineTo(px, chartArea.bottom - 4);
      const py = Math.round(scales.y.getPixelForValue(v)) + 0.5;
      ctx.moveTo(chartArea.left, py); ctx.lineTo(chartArea.left + 4, py);
    });
    ctx.stroke();
    ctx.restore();
  }
};

function tickLabel(v) { return v < 0 ? '\u2212' + Math.abs(v) : String(v); }

function buildPanel(r, c) {
  const canvas = document.createElement('canvas');
  canvas.className = 'cv';
  const w = PLOT_SIZE + PADL + PADR, h = PLOT_SIZE + PADT + PADB;
  canvas.width = w; canvas.height = h;
  canvas.style.width = w + 'px'; canvas.style.height = h + 'px';
  canvas.style.left = (PLOT_LEFT[c] - PADL) + 'px';
  canvas.style.top = (PLOT_TOP[r] - PADT) + 'px';
  document.body.appendChild(canvas);

  const mean = MEANS[r][c];
  const resp = RESPS[r][c];
  const datasets = [];
  // mean response mesh (drawn on top)
  for (let i = 0; i < 4; i++) {
    const rowPts = [0,1,2,3].map(j => ({x: mean[i*4+j][0], y: mean[i*4+j][1]}));
    const colPts = [0,1,2,3].map(j => ({x: mean[j*4+i][0], y: mean[j*4+i][1]}));
    [rowPts, colPts].forEach(pts => datasets.push({
      type: 'line', data: pts, showLine: true, order: 0,
      borderColor: INK, borderWidth: 3.2, pointRadius: 4.9,
      pointBackgroundColor: '#111', pointBorderColor: '#111', pointBorderWidth: 0,
      fill: false, tension: 0, clip: false
    }));
  }
  // individual responses
  datasets.push({
    type: 'scatter', data: resp.map(p => ({x: p[0], y: p[1]})), order: 1,
    pointRadius: 2.3, pointBorderWidth: 1.1, pointBorderColor: '#222',
    pointBackgroundColor: '#fff', showLine: false, clip: false
  });
  // target grid
  targetEl.forEach(e => datasets.push({
    type: 'line', order: 2, data: [{x: targetAz[0], y: e}, {x: targetAz[3], y: e}],
    borderColor: '#4a4a4a', borderWidth: 1, pointRadius: 0, fill: false
  }));
  targetAz.forEach(a => datasets.push({
    type: 'line', order: 2, data: [{x: a, y: targetEl[0]}, {x: a, y: targetEl[3]}],
    borderColor: '#4a4a4a', borderWidth: 1, pointRadius: 0, fill: false
  }));

  const setTicks = axis => { axis.ticks = tickValues.map(v => ({value: v})); };
  new Chart(canvas, {
    type: 'scatter',
    data: {datasets},
    options: {
      responsive: false, animation: false, events: [],
      devicePixelRatio: 1,
      layout: {padding: {left: 0, right: PADR, top: PADT, bottom: 0}},
      plugins: {legend: {display: false}, tooltip: {enabled: false},
                panelTitle: {text: dayLabels[r][c]}},
      scales: {
        x: {
          type: 'linear', min: -40, max: 40,
          afterBuildTicks: setTicks,
          afterFit: s => { s.height = PADB; s.paddingLeft = 0; s.paddingRight = 0; },
          grid: {display: false},
          border: {display: true, color: INK, width: 1.5},
          ticks: {display: r === 4, callback: tickLabel, padding: 8, maxRotation: 0,
                  color: '#222', font: {family: '"Liberation Sans", Arial, sans-serif', size: 13}}
        },
        y: {
          type: 'linear', min: -40, max: 40,
          afterBuildTicks: setTicks,
          afterFit: s => { s.width = PADL; s.paddingTop = 0; s.paddingBottom = 0; },
          grid: {display: false},
          border: {display: true, color: INK, width: 1.5},
          ticks: {display: c === 0, callback: tickLabel, padding: 5,
                  color: '#222', font: {family: '"Liberation Sans", Arial, sans-serif', size: 13}}
        }
      }
    },
    plugins: [panelTitlePlugin, innerTicksPlugin]
  });
}

for (let r = 0; r < 5; r++) for (let c = 0; c < 4; c++) buildPanel(r, c);

// ---------- HTML text ----------
function addLabel(text, cls, x, y, rot) {
  const d = document.createElement('div');
  d.className = 'lbl ' + cls;
  d.textContent = text;
  d.style.left = x + 'px';
  d.style.top = y + 'px';
  if (rot) d.style.transform = 'translate(-50%,-50%) rotate(' + rot + 'deg)';
  document.body.appendChild(d);
}
const headerX = [186, 418, 633, 853];
subjects.forEach((s, i) => addLabel(s, 'hdr', headerX[i], 30));
const rowLetterY = [163, 392, 612, 830, 1064];
rowLetters.forEach((l, i) => addLabel(l, 'row', 32, rowLetterY[i]));
addLabel('Response elevation (deg)', 'ttl ttly', 62, 620, -90);
addLabel('Response azimuth (deg)', 'ttl', 530, 1212);
const condY = [158, 612, 1070];
conditions.forEach((t, i) => addLabel(t, 'side', 979, condY[i], 90));
</script>
</body></html>
